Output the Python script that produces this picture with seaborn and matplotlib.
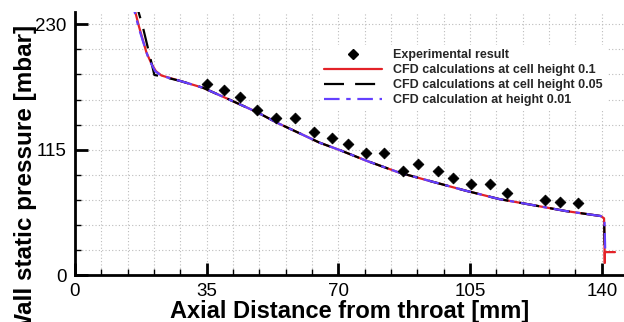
import numpy as np
import pandas as pd
import matplotlib
matplotlib.use("Agg")
import matplotlib.pyplot as plt
from matplotlib.lines import Line2D
from matplotlib.ticker import MultipleLocator
import seaborn as sns

# Measured wall static pressure along the nozzle
exp_x = [35.1, 39.6, 43.9, 48.5, 53.5, 58.5, 63.5, 68.3, 72.5, 77.4, 82.0,
         87.1, 91.2, 96.6, 100.5, 105.2, 110.3, 114.9, 124.9, 128.9, 133.8]
exp_p = [175.0, 169.7, 163.6, 151.1, 143.8, 143.8, 130.9, 126.0, 119.9, 111.9, 111.9,
         95.7, 102.1, 95.7, 89.3, 83.2, 83.2, 75.5, 68.8, 66.7, 65.8]

# CFD wall pressure, cell height 0.1
cfd1_x = [14.8, 17.0, 19.0, 20.3, 21.5, 23.0, 28.0, 34.0, 39.7, 48.5, 53.5, 59.7, 65.0,
          70.3, 77.4, 86.2, 95.0, 103.9, 112.7, 121.6, 130.4, 139.7, 140.6, 140.8, 140.8, 143.5]
cfd1_p = [258.0, 228.0, 204.0, 194.0, 187.0, 183.0, 178.0, 171.8, 163.0, 149.2, 140.0, 130.0, 121.4,
          114.7, 104.9, 93.9, 85.6, 77.3, 69.7, 64.2, 58.7, 54.1, 52.0, 11.0, 21.0, 21.0]

# CFD wall pressure, cell height 0.05
cfd2_x = [15.5, 18.0, 21.1, 22.6, 28.0, 34.0, 39.7, 48.5, 53.5, 59.7, 65.0,
          70.3, 77.4, 86.2, 95.0, 103.9, 112.7, 121.6, 130.4, 139.7, 140.6, 140.8]
cfd2_p = [258.0, 228.0, 183.5, 182.6, 178.0, 171.8, 163.0, 149.2, 140.0, 130.0, 121.4,
          114.7, 104.9, 93.9, 85.6, 77.3, 69.7, 64.2, 58.7, 54.1, 52.0, 22.0]

# CFD wall pressure, cell height 0.01
cfd3_x = [14.6, 17.0, 19.5, 21.3, 23.0, 28.0, 34.0, 39.7, 48.5, 53.5, 59.7, 65.0,
          70.3, 77.4, 86.2, 95.0, 103.9, 112.7, 121.6, 130.4, 139.7, 140.7, 140.9]
cfd3_p = [258.0, 226.0, 199.0, 187.0, 182.8, 178.0, 171.8, 163.0, 149.2, 140.0, 130.0, 121.4,
          114.7, 104.9, 93.9, 85.6, 77.3, 69.7, 64.2, 58.7, 54.1, 52.0, 24.0]

labels = ["Experimental result",
          "CFD calculations at cell height 0.1",
          "CFD calculations at cell height 0.05",
          "CFD calculation at height 0.01"]
x_ticks = [0, 35, 70, 105, 140]
y_ticks = [0, 115, 230]

sns.set_theme(style="white")
plt.rcParams["font.family"] = ["Liberation Sans", "DejaVu Sans"]

fig = plt.figure(figsize=(6.24, 3.22), dpi=100)
W, H = 624, 322
ax = fig.add_axes([75 / W, 47 / H, 549 / W, 263 / H])

red, black, blue = "#e32228", "#000000", "#6440ff"

sns.lineplot(x=cfd1_x, y=cfd1_p, ax=ax, color=red, lw=1.6, sort=False,
             estimator=None, zorder=3)
sns.lineplot(x=cfd2_x, y=cfd2_p, ax=ax, color=black, lw=1.6, sort=False,
             estimator=None, zorder=4)
ax.lines[-1].set_dashes([9, 5])
sns.lineplot(x=cfd3_x, y=cfd3_p, ax=ax, color=blue, lw=1.6, sort=False,
             estimator=None, zorder=5)
ax.lines[-1].set_dashes([7, 3, 2, 3])
sns.scatterplot(x=exp_x, y=exp_p, ax=ax, marker="D", s=30, color="black",
                edgecolor="black", linewidth=0.6, zorder=6)

ax.set_xlim(0, 145.9)
ax.set_ylim(0, 241.3)
ax.set_xticks(x_ticks)
ax.set_yticks(y_ticks)
ax.xaxis.set_minor_locator(MultipleLocator(7))
ax.yaxis.set_minor_locator(MultipleLocator(23))
ax.grid(which="both", color="#bcbcbc", linestyle=(0, (1, 2)), linewidth=0.8)
ax.set_axisbelow(True)

for side in ("top", "right"):
    ax.spines[side].set_visible(False)
for side in ("left", "bottom"):
    ax.spines[side].set_linewidth(2.0)
    ax.spines[side].set_color("black")

ax.tick_params(which="major", direction="in", length=9, width=2, color="black",
               labelsize=13.5, labelcolor="black", pad=6)
ax.tick_params(which="minor", direction="in", length=4.5, width=1, color="black")
ax.tick_params(axis="x", which="both", bottom=True)
ax.tick_params(axis="y", which="both", left=True)

ax.set_xlabel("Axial Distance from throat [mm]", fontsize=17, fontweight="bold",
              labelpad=-0.5, color="black")
ax.set_ylabel("")
# the rotated axis title runs past the lower edge of the canvas
fig.text(26 / W, 1 - 25 / H, "Wall static pressure [mbar]", rotation=90,
         ha="center", va="top", fontsize=17.5, fontweight="bold", color="black")

handles = [
    Line2D([], [], marker="D", color="black", linestyle="none", markersize=5.4),
    Line2D([], [], color=red, lw=1.6),
    Line2D([], [], color=black, lw=1.6, dashes=[9, 5]),
    Line2D([], [], color=blue, lw=1.6, dashes=[7, 3, 2, 3]),
]
leg = ax.legend(handles, labels, loc="upper left", bbox_to_anchor=(239 / 549, 1 - 27 / 263),
                frameon=True, framealpha=1, facecolor="white", edgecolor="none",
                fancybox=False, handlelength=4.6, handletextpad=0.95, labelspacing=0.25,
                borderpad=0.3, prop={"size": 9, "weight": "bold"})

fig.savefig("out.png", dpi=100)
